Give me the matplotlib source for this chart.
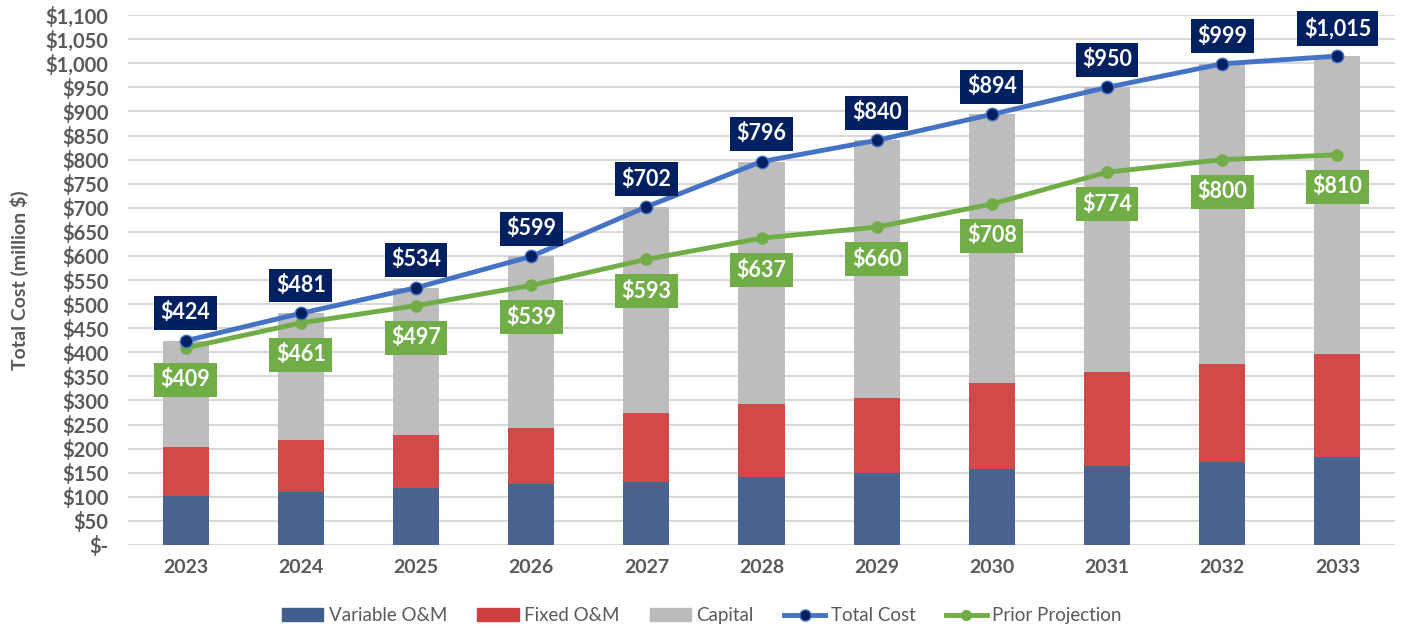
import matplotlib.pyplot as plt
from matplotlib.ticker import FuncFormatter, MultipleLocator
from matplotlib.lines import Line2D
from matplotlib.patches import Patch

years = ["2023", "2024", "2025", "2026", "2027", "2028", "2029", "2030", "2031", "2032", "2033"]
variable_om = [102, 110, 118, 127, 131, 141, 150, 158, 164, 173, 183]
fixed_om = [102, 108, 111, 116, 144, 152, 156, 179, 196, 203, 214]
capital = [220, 263, 305, 356, 427, 503, 534, 557, 590, 623, 618]
total_cost = [424, 481, 534, 599, 702, 796, 840, 894, 950, 999, 1015]
prior_projection = [409, 461, 497, 539, 593, 637, 660, 708, 774, 800, 810]

plt.rcParams["font.family"] = ["Lato", "DejaVu Sans"]
GRAY = "#595959"

fig = plt.figure(figsize=(14.04, 6.31), dpi=100)
ax = fig.add_axes([0.0912, 0.1363, 0.9024, 0.8397])

x = list(range(len(years)))
w = 0.4
bottom2 = variable_om
bottom3 = [a + b for a, b in zip(variable_om, fixed_om)]

ax.bar(x, variable_om, w, color="#415D8C", alpha=0.96, zorder=2)
ax.bar(x, fixed_om, w, bottom=bottom2, color="#D03F40", alpha=0.95, zorder=2)
ax.bar(x, capital, w, bottom=bottom3, color="#BBBBBB", alpha=0.96, zorder=2)

ax.plot(x, total_cost, color="#4472C4", lw=3.5, marker="o", ms=9,
        mfc="#002060", mec="#4472C4", mew=1, zorder=4)
ax.plot(x, prior_projection, color="#70AD47", lw=3.5, marker="o", ms=8,
        mfc="#70AD47", mec="#70AD47", zorder=3)

for i, v in enumerate(total_cost):
    ax.annotate(f"${v:,}", (i, v), xytext=(0, 20), textcoords="offset points",
                ha="center", va="center", color="white", fontsize=15.5, fontweight="bold",
                bbox=dict(boxstyle="square,pad=0.3", fc="#002060", ec="none"), zorder=6)
for i, v in enumerate(prior_projection):
    ax.annotate(f"${v:,}", (i, v), xytext=(0, -23), textcoords="offset points",
                ha="center", va="center", color="white", fontsize=15.5, fontweight="bold",
                bbox=dict(boxstyle="square,pad=0.3", fc="#70AD47", ec="none"), zorder=5)

ax.set_xlim(-0.5, len(years) - 0.5)
ax.set_ylim(0, 1100)
ax.yaxis.set_major_locator(MultipleLocator(50))
ax.yaxis.set_major_formatter(FuncFormatter(lambda v, p: "$-" if v == 0 else f"${v:,.0f}"))
ax.set_xticks(x)
ax.set_xticklabels(years)
ax.grid(True, axis="y", color="#D9D9D9", lw=1.5, zorder=0)
ax.set_axisbelow(True)
for s in ax.spines.values():
    s.set_visible(False)
ax.tick_params(axis="y", length=0, labelsize=14.5, colors=GRAY, pad=14)
ax.tick_params(axis="x", length=0, labelsize=14, colors=GRAY, pad=10)
for lab in ax.get_xticklabels() + ax.get_yticklabels():
    lab.set_fontweight("bold")
ax.set_ylabel("Total Cost (million $)", fontsize=14, fontweight="bold", color=GRAY, labelpad=12)

handles = [
    Patch(color="#415D8C", label="Variable O&M"),
    Patch(color="#D03F40", label="Fixed O&M"),
    Patch(color="#BBBBBB", label="Capital"),
    Line2D([], [], color="#4472C4", lw=3.5, marker="o", ms=8, mfc="#002060", label="Total Cost"),
    Line2D([], [], color="#70AD47", lw=3.5, marker="o", ms=7, label="Prior Projection"),
]
leg = fig.legend(handles=handles, loc="center", bbox_to_anchor=(0.5, 0.024), ncol=5,
                 frameon=False, fontsize=13.5, handlelength=2.2, columnspacing=1.6,
                 handletextpad=0.3, labelcolor=GRAY)

fig.savefig("out.png", dpi=100)
